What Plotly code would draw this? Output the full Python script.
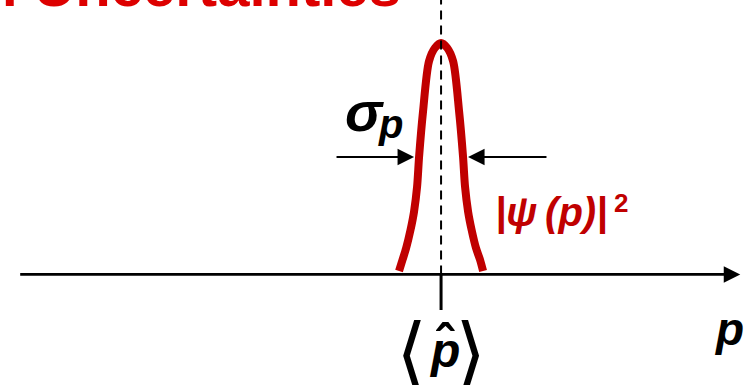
import plotly.graph_objects as go

# Momentum-space probability density |psi(p)|^2 (peak normalised to 1),
# p measured from the mean momentum in units of the half width at half maximum
p_vals = [-1.91, -1.75, -1.59, -1.39, -1.23, -1.09, -1.00, -0.82, -0.55, -0.27, 0.00,
          0.27, 0.55, 0.82, 1.00, 1.09, 1.23, 1.39, 1.59, 1.77, 1.91]
psi2_vals = [0.00, 0.05, 0.10, 0.18, 0.26, 0.37, 0.50, 0.70, 0.92, 0.98, 1.00,
             0.98, 0.92, 0.70, 0.50, 0.37, 0.26, 0.18, 0.10, 0.05, 0.00]

p_mean = 0.0
sigma_level = 0.5          # height at which the width sigma_p is marked
sigma_edges = [-1.0, 1.0]  # where the curve crosses that height

# axis extents
AXIS_Y = -0.015
AXIS_LEFT, AXIS_RIGHT = -19.2, 13.6
X_RANGE = [-20.05, 14.18]
Y_RANGE = [-0.5, 1.189]

RED = "#C00000"
TITLE_RED = "#DD0000"
FONT = "Liberation Sans, Arial, sans-serif"
BRACKET_FONT = "DejaVu Sans, sans-serif"

fig = go.Figure()

# the distribution
fig.add_trace(go.Scatter(
    x=p_vals, y=psi2_vals, mode="lines",
    line=dict(color=RED, width=8, shape="spline", smoothing=0.8),
    hoverinfo="skip"))

# dashed marker at the mean momentum
fig.add_trace(go.Scatter(
    x=[p_mean, p_mean], y=[AXIS_Y, Y_RANGE[1] + 0.05], mode="lines",
    line=dict(color="black", width=2, dash="9px,6px"), hoverinfo="skip"))

# tick below the axis at the mean
fig.add_trace(go.Scatter(
    x=[p_mean, p_mean], y=[AXIS_Y, -0.171], mode="lines",
    line=dict(color="black", width=3), hoverinfo="skip"))

ann = []

# horizontal p axis with arrow
ann.append(dict(x=AXIS_RIGHT, y=AXIS_Y, ax=AXIS_LEFT, ay=AXIS_Y,
                xref="x", yref="y", axref="x", ayref="y", text="",
                showarrow=True, arrowhead=2, arrowwidth=2.7, arrowsize=1.22,
                arrowcolor="black"))

# width arrows pointing at the curve
for edge, tail in zip(sigma_edges, [-4.82, 4.86]):
    ann.append(dict(x=edge, y=sigma_level, ax=tail, ay=sigma_level,
                    xref="x", yref="y", axref="x", ayref="y", text="",
                    showarrow=True, arrowhead=2, arrowwidth=2, arrowsize=1.65,
                    arrowcolor="black", standoff=5))

def label(x, y, text, size, color="black", xanchor="center", yanchor="middle",
          family=FONT):
    ann.append(dict(x=x, y=y, xref="x", yref="y", text=text, showarrow=False,
                    xanchor=xanchor, yanchor=yanchor,
                    font=dict(family=family, size=size, color=color)))

# title (runs off the top edge)
label(-1.72, 1.102, "<b>Momentum Uncertainties</b>", 58, TITLE_RED,
      xanchor="right", yanchor="bottom")

# sigma_p
label(-3.5, 0.70, "<b><i>σ</i></b>", 56)
label(-2.3, 0.646, "<b><i>p</i></b>", 40)

# |psi(p)|^2
label(5.0, 0.26, "<b><i>|ψ\u2009(p)|</i></b>", 40, RED)
label(8.18, 0.297, "<b>2</b>", 26, RED)

# <p-hat>
label(-1.36, -0.36, "⟨", 80, family=BRACKET_FONT)
label(1.32, -0.36, "⟩", 80, family=BRACKET_FONT)
label(0.15, -0.35, "<b><i>p</i></b>", 48)
label(0.2, -0.315, "<b>ˆ</b>", 52)

# axis label
label(13.09, -0.254, "<b><i>p</i></b>", 46)

fig.update_layout(
    width=753, height=385,
    margin=dict(l=0, r=0, t=0, b=0),
    paper_bgcolor="white", plot_bgcolor="white",
    showlegend=False,
    xaxis=dict(visible=False, range=X_RANGE, fixedrange=True),
    yaxis=dict(visible=False, range=Y_RANGE, fixedrange=True),
    annotations=ann,
)

fig.write_html("out.html")
